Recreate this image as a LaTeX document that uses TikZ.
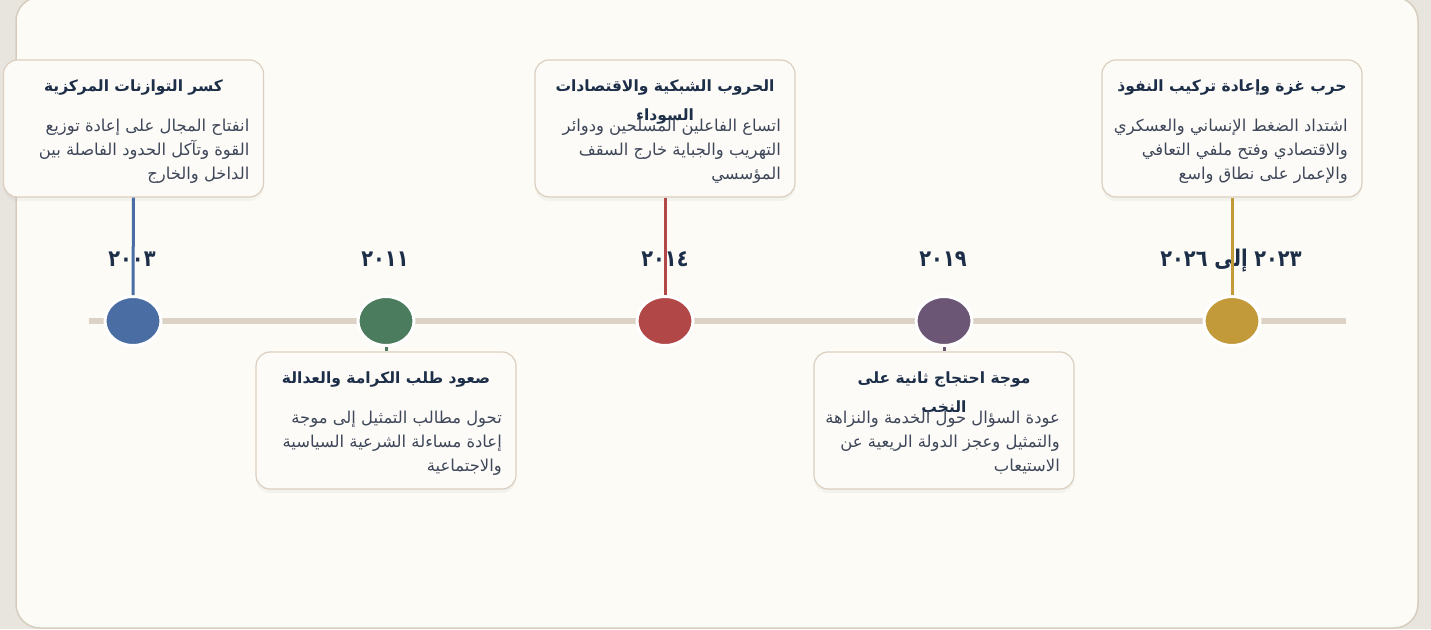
\documentclass[tikz,border=0pt]{standalone}
\usepackage{fontspec}
\usetikzlibrary{shadows,shapes.geometric}
\TeXXeTstate=1
\newfontfamily\arabicfont[Script=Arabic]{DejaVu Sans}
\newfontfamily\yearfont[Script=Arabic,FakeStretch=0.84]{DejaVu Sans}
\newcommand\ar[1]{{\arabicfont\beginR #1\endR}}
\newcommand\yd[1]{{\yearfont\beginR #1\endR}}
\definecolor{bgout}{HTML}{E8E5DF}
\definecolor{panelfill}{HTML}{FDFBF6}
\definecolor{panelline}{HTML}{D6CDBF}
\definecolor{cardline}{HTML}{DACFC0}
\definecolor{cardfill}{HTML}{FDFBF7}
\definecolor{tlcol}{HTML}{DCD3C6}
\definecolor{navy}{HTML}{1C2E48}
\definecolor{bodycol}{HTML}{3E4759}
\definecolor{cblue}{HTML}{4A6DA3}
\definecolor{cgreen}{HTML}{4C7C5E}
\definecolor{cred}{HTML}{B24747}
\definecolor{cpurple}{HTML}{6C5676}
\definecolor{cgold}{HTML}{C39A3A}
\tikzset{
  card/.style={draw=cardline, line width=1.2pt, fill=cardfill, rounded corners=14pt,
    minimum width=260pt, minimum height=137pt, inner sep=0pt,
    drop shadow={opacity=0.07, shadow xshift=0pt, shadow yshift=-4pt}},
  ttl/.style={text=navy, font=\fontsize{15.5}{18}\selectfont\bfseries, anchor=base, inner sep=0pt},
  bdy/.style={text=bodycol, font=\fontsize{16.4}{19}\selectfont, anchor=base east, inner sep=0pt},
  yr/.style={text=navy, font=\fontsize{23}{26}\selectfont\bfseries, inner sep=0pt, anchor=base},
  dot/.style={ellipse, draw=white, line width=3pt, fill=#1, minimum width=56pt, minimum height=49pt, inner sep=0pt},
  conn/.style={draw=#1, line width=3pt},
  tl/.style={draw=tlcol, line width=6pt}
}
\begin{document}
\begin{tikzpicture}[x=1pt,y=-1pt]
\useasboundingbox (0,0) rectangle (1431,629);
\fill[bgout] (0,0) rectangle (1431,629);
\filldraw[fill=panelfill, draw=panelline, line width=1.5pt, rounded corners=24pt] (16,-3) rectangle (1418,628);

% timeline
\coordinate (tlA) at (89,321);
\coordinate (tlB) at (1346,321);
\draw[tl] (tlA) -- (tlB);

% cards
\node[card] (k1) at (133.5,128.5) {};
\node[card] (k2) at (386,420.5) {};
\node[card] (k3) at (665,128.5) {};
\node[card] (k4) at (944,420.5) {};
\node[card] (k5) at (1232,128.5) {};

% years
\node[yr] (y1) at (132,266) {\yd{٢٠٠٣}};
\node[yr] (y2) at (385,266) {\yd{٢٠١١}};
\node[yr] (y3) at (665,266) {\yd{٢٠١٤}};
\node[yr] (y4) at (943,266) {\yd{٢٠١٩}};
\node[yr] (y5) at (1231,266) {\yd{٢٠٢٣ إلى ٢٠٢٦}};

% dots
\node[dot=cblue] (d1) at (133,321) {};
\node[dot=cgreen] (d2) at (386,321) {};
\node[dot=cred] (d3) at (665,321) {};
\node[dot=cpurple] (d4) at (944,321) {};
\node[dot=cgold] (d5) at (1232,321) {};

% connectors
\draw[conn=cblue] (k1.south) -- (d1.north);
\draw[conn=cgreen] (d2.south) -- (k2.north);
\draw[conn=cred] (k3.south) -- (d3.north);
\draw[conn=cpurple] (d4.south) -- (k4.north);
\draw[conn=cgold] (k5.south) -- (d5.north);

% card 1
\node[ttl] (t1) at (133.5,91) {\ar{كسر التوازنات المركزية}};
\node[bdy] (b1a) at (249.5,131) {\ar{انفتاح المجال على إعادة توزيع}};
\node[bdy] (b1b) at (249.5,155) {\ar{القوة وتآكل الحدود الفاصلة بين}};
\node[bdy] (b1c) at (249.5,179) {\ar{الداخل والخارج}};

% card 2
\node[ttl] (t2) at (386,383) {\ar{صعود طلب الكرامة والعدالة}};
\node[bdy] (b2a) at (502,423) {\ar{تحول مطالب التمثيل إلى موجة}};
\node[bdy] (b2b) at (502,447) {\ar{إعادة مساءلة الشرعية السياسية}};
\node[bdy] (b2c) at (502,471) {\ar{والاجتماعية}};

% card 3
\node[ttl] (t3a) at (665,91) {\ar{الحروب الشبكية والاقتصادات}};
\node[ttl] (t3b) at (665,120) {\ar{السوداء}};
\node[bdy] (b3a) at (781,131) {\ar{اتساع الفاعلين المسلحين ودوائر}};
\node[bdy] (b3b) at (781,155) {\ar{التهريب والجباية خارج السقف}};
\node[bdy] (b3c) at (781,179) {\ar{المؤسسي}};

% card 4
\node[ttl] (t4a) at (944,383) {\ar{موجة احتجاج ثانية على}};
\node[ttl] (t4b) at (944,412) {\ar{النخب}};
\node[bdy] (b4a) at (1060,423) {\ar{عودة السؤال حول الخدمة والنزاهة}};
\node[bdy] (b4b) at (1060,447) {\ar{والتمثيل وعجز الدولة الريعية عن}};
\node[bdy] (b4c) at (1060,471) {\ar{الاستيعاب}};

% card 5
\node[ttl] (t5) at (1232,91) {\ar{حرب غزة وإعادة تركيب النفوذ}};
\node[bdy] (b5a) at (1348,131) {\ar{اشتداد الضغط الإنساني والعسكري}};
\node[bdy] (b5b) at (1348,155) {\ar{والاقتصادي وفتح ملفي التعافي}};
\node[bdy] (b5c) at (1348,179) {\ar{والإعمار على نطاق واسع}};
\end{tikzpicture}
\end{document}
